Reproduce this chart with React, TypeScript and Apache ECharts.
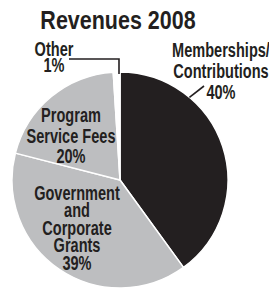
import React, { useEffect, useRef } from 'react';
import * as echarts from 'echarts';

const titleText = 'Revenues 2008';
const categories = [
  'Memberships/\nContributions',
  'Government\nand\nCorporate\nGrants',
  'Program\nService Fees',
  'Other',
];
const shares = [40, 39, 20, 1];
const sliceColors = ['#231f20', '#bdbec0', '#bdbec0', '#ffffff'];

// label layout (center x, middle y, line height) per slice
const labelX = [221, 77, 71, 54];
const labelY = [71, 228, 136, 57];
const labelLH = [21, 17.5, 20.5, 16];

const CX = 120;
const CY = 180;
const R = 108;
const INK = '#231f20';
const FONT = '"Liberation Sans", Arial, sans-serif';
const SQUEEZE = 0.71;

export default function App() {
  const ref = useRef<HTMLDivElement>(null);
  useEffect(() => {
    const chart = echarts.init(ref.current!, null, { renderer: 'svg' });
    const labels = categories.map((name, i) => ({
      type: 'text',
      x: labelX[i],
      y: labelY[i],
      scaleX: SQUEEZE,
      z: 100,
      style: {
        text: `${name}\n${shares[i]}%`,
        fill: INK,
        fontFamily: FONT,
        fontWeight: 'bold',
        fontSize: 20.5,
        lineHeight: labelLH[i],
        align: 'center',
        verticalAlign: 'middle',
      },
    }));
    const a0 = (40 * Math.PI) / 180;
    const leaderMember = {
      type: 'polyline',
      z: 100,
      shape: {
        points: [
          [CX + R * Math.sin(a0), CY - R * Math.cos(a0)],
          [204, 86],
        ],
      },
      style: { stroke: INK, lineWidth: 1.6, fill: 'none' },
    };
    const leaderOther = {
      type: 'polyline',
      z: 100,
      shape: {
        points: [
          [119, CY - R + 2],
          [119, 59],
          [69, 59],
        ],
      },
      style: { stroke: INK, lineWidth: 1.6, fill: 'none' },
    };
    chart.setOption({
      animation: false,
      backgroundColor: '#ffffff',
      graphic: [
        {
          type: 'text',
          x: 118,
          y: 20,
          scaleX: 0.86,
          z: 100,
          style: {
            text: titleText,
            fill: INK,
            fontFamily: FONT,
            fontWeight: 'bold',
            fontSize: 25,
            align: 'center',
            verticalAlign: 'middle',
          },
        },
        ...labels,
        leaderMember,
        leaderOther,
      ],
      series: [
        {
          type: 'pie',
          center: [CX, CY],
          radius: R,
          startAngle: 90,
          clockwise: true,
          label: { show: false },
          labelLine: { show: false },
          emphasis: { disabled: true },
          itemStyle: { borderColor: '#ffffff', borderWidth: 1.5 },
          data: categories.map((name, i) => ({
            name,
            value: shares[i],
            itemStyle: { color: sliceColors[i] },
          })),
        },
      ],
    });
    return () => chart.dispose();
  }, []);
  return (
    <div
      ref={ref}
      style={{ position: 'fixed', left: 0, top: 0, width: 269, height: 288 }}
    />
  );
}
